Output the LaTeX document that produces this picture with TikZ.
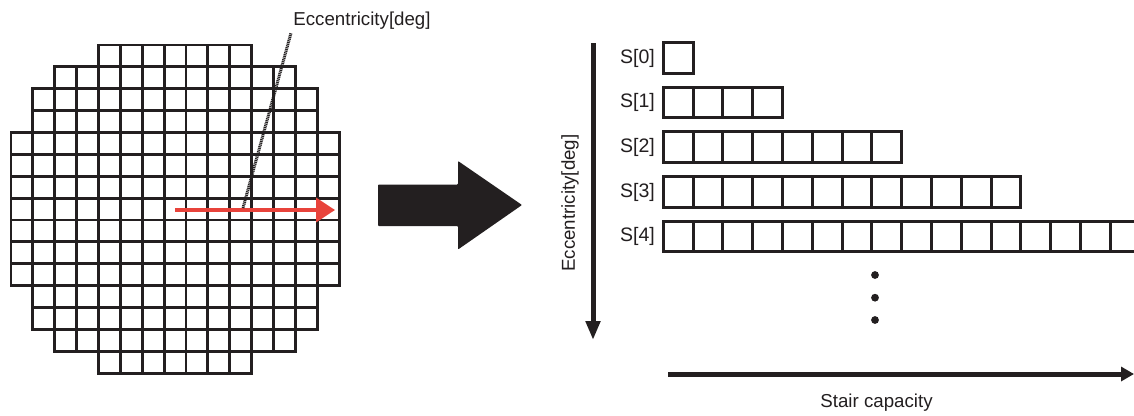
\documentclass[tikz,border=0pt]{standalone}
\usepackage{fontspec}
\setmainfont{Liberation Sans}
\usetikzlibrary{arrows.meta}
\definecolor{ink}{HTML}{231F20}
\definecolor{redarrow}{HTML}{E8433B}
\tikzset{
  cellline/.style={draw=ink, line width=2.9pt, line join=miter},
  stairline/.style={draw=ink, line width=3pt, line join=miter},
  labeltext/.style={text=ink, inner sep=0pt, font=\fontsize{18.7pt}{22pt}\selectfont},
  stairlabel/.style={text=ink, inner sep=0pt, anchor=east, font=\fontsize{19.5pt}{23pt}\selectfont},
  axisarrow/.style={draw=ink, line width=5pt},
}
\begin{document}
\begin{tikzpicture}[x=1pt, y=-1pt]
  \clip (0,0) rectangle (1134,415);
  \fill[white] (0,0) rectangle (1134,415);

  % ---- circular grid of cells (15 x 15, corners cut) ----
  \def\cs{21.87}
  \foreach \r/\o in {0/4,1/2,2/1,3/1,4/0,5/0,6/0,7/0,8/0,9/0,10/0,11/1,12/1,13/2,14/4} {
    \pgfmathtruncatemacro{\last}{14-\o}
    \foreach \c in {\o,...,\last} {
      \draw[cellline] ({11+\c*\cs},{45+\r*\cs}) rectangle ++(\cs,\cs);
    }
  }

  % ---- radial arrow inside the grid ----
  \coordinate (rstart) at (175,210);
  \coordinate (rend) at (335,210);
  \draw[redarrow, line width=3.6pt, -{Triangle[length=19pt,width=24pt]}] (rstart) -- (rend);

  % ---- eccentricity leader ----
  \coordinate (lbot) at (243,208);
  \coordinate (ltop) at (291,33);
  \draw[ink, line width=3pt, dash pattern=on 1.1pt off 0.7pt] (lbot) -- (ltop);
  \node[labeltext] (ecctop) at (362,21) {Eccentricity[deg]};

  % ---- big transition arrow ----
  \fill[ink, rounded corners=0.8pt]
    (378,184.5) -- (458,184.5) -- (458,161) -- (522,205) -- (458,249.5)
    -- (458,226) -- (378,226) -- cycle;

  % ---- vertical eccentricity axis ----
  \coordinate (vtop) at (593,43);
  \coordinate (vbot) at (593,340);
  \draw[axisarrow, -{Triangle[length=19pt,width=14pt]}] (vtop) -- (vbot);
  \node[labeltext, rotate=90] (eccside) at (570,203) {Eccentricity[deg]};

  % ---- stairs ----
  \def\pitch{29.8}
  \foreach \i/\n in {0/1,1/4,2/8,3/12,4/16} {
    \pgfmathsetmacro{\top}{42.7+\i*44.6}
    \foreach \k in {1,...,\n} {
      \draw[stairline] ({663.3+(\k-1)*\pitch},\top) rectangle ++(\pitch,30.5);
    }
    \node[stairlabel] (s\i) at (655,{\top+15.5}) {S[\i]};
  }

  % ---- continuation dots ----
  \foreach \y in {275,297.7,320} {
    \fill[ink] (875,\y) circle (3.9pt);
  }

  % ---- horizontal capacity axis ----
  \coordinate (hleft) at (668,374);
  \coordinate (hright) at (1134,374);
  \draw[axisarrow, -{Triangle[length=13pt,width=14pt]}] (hleft) -- (hright);
  \node[labeltext] (cap) at (876.5,403) {Stair capacity};
\end{tikzpicture}
\end{document}
